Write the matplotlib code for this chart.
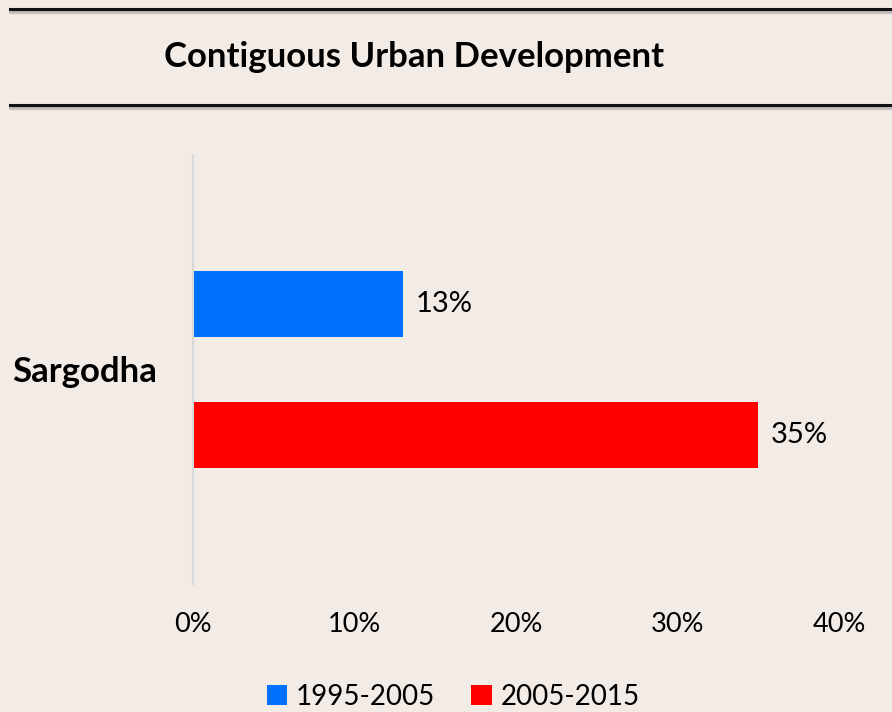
import matplotlib.pyplot as plt
from matplotlib.lines import Line2D
from matplotlib.patches import Patch
from matplotlib.ticker import PercentFormatter

# Contiguous urban development share by period
city = "Sargodha"
periods = ["1995-2005", "2005-2015"]
shares = [13, 35]
bar_colors = ["#0070FF", "#FF0000"]
x_ticks = [0, 10, 20, 30, 40]

BG = "#F3EBE5"
plt.rcParams["font.family"] = ["Lato", "DejaVu Sans"]

W, H = 892, 712
fig = plt.figure(figsize=(W / 100, H / 100), dpi=100, facecolor=BG)

# plot area in pixel terms
left, right, top, bottom = 193, 839, 155, 584
ax = fig.add_axes([left / W, 1 - bottom / H, (right - left) / W, (bottom - top) / H])
ax.set_facecolor(BG)

offsets = [0.153, -0.153]
for share, off, col in zip(shares, offsets, bar_colors):
    ax.barh(off, share, height=0.154, color=col, zorder=2)
    ax.text(share + 0.8, off, f"{share}%", va="center", ha="left", fontsize=21)

ax.set_xlim(0, 40)
ax.set_ylim(-0.5, 0.5)
ax.set_xticks(x_ticks)
ax.xaxis.set_major_formatter(PercentFormatter(decimals=0))
ax.tick_params(axis="x", length=0, pad=20, labelsize=19.5)
ax.set_yticks([0])
ax.set_yticklabels([city], fontsize=25, fontweight="bold")
ax.tick_params(axis="y", length=0, pad=26)

for side in ["top", "right", "bottom"]:
    ax.spines[side].set_visible(False)
ax.spines["left"].set_color("#D9D9D9")
ax.spines["left"].set_linewidth(1.5)

# title band with two rules and soft shadows
for y in (9, 105):
    for k, a in ((3, 0.10), (2, 0.18), (1, 0.30)):
        fig.add_artist(Line2D([10 / W, 1], [1 - (y + k + 1) / H] * 2,
                              color="#777777", alpha=a, lw=2))
    fig.add_artist(Line2D([10 / W, 1], [1 - y / H] * 2, color="#111111", lw=2.2))

fig.text(414 / W, 1 - 57 / H, "Contiguous Urban Development",
         ha="center", va="center", fontsize=25, fontweight="bold")

handles = [Patch(facecolor=c, edgecolor="none") for c in bar_colors]
fig.legend(handles, periods, loc="center", bbox_to_anchor=(453 / W, 1 - 697 / H),
           ncol=2, frameon=False, fontsize=20, handlelength=0.75, handleheight=0.75,
           handletextpad=0.3, columnspacing=1.3)

fig.savefig("out.png", dpi=100, facecolor=BG)
